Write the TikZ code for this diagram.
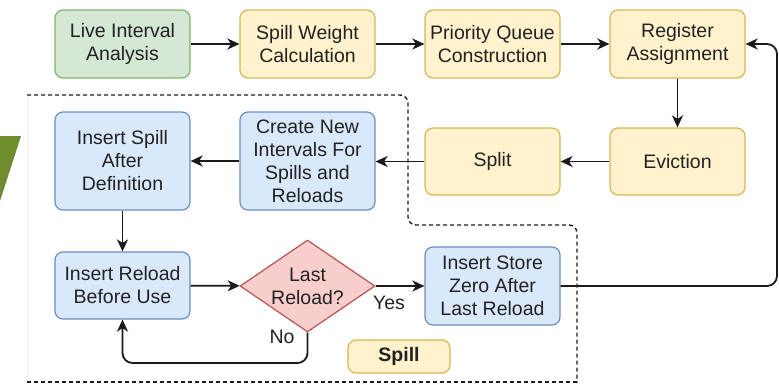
\documentclass[tikz,border=0pt]{standalone}
\usepackage{fontspec}
\setmainfont{Liberation Sans}
\usetikzlibrary{arrows.meta,shapes.geometric,calc}
\definecolor{gfill}{HTML}{D5E8D4}\definecolor{gline}{HTML}{82B366}
\definecolor{yfill}{HTML}{FFF2CC}\definecolor{yline}{HTML}{D6B656}
\definecolor{bfill}{HTML}{DAE8FC}\definecolor{bline}{HTML}{6C8EBF}
\definecolor{rfill}{HTML}{F8CECC}\definecolor{rline}{HTML}{B85450}
\definecolor{txtc}{HTML}{222222}
\definecolor{linec}{HTML}{1A1A1A}
\definecolor{olive}{HTML}{6E8B2E}
\tikzset{
  box/.style={rectangle, rounded corners=8pt, line width=1.2pt, minimum width=135pt,
    align=center, inner sep=0pt, text=txtc, font=\fontsize{19.5}{23}\selectfont},
  gbox/.style={box, draw=gline, fill=gfill},
  ybox/.style={box, draw=yline, fill=yfill},
  bbox/.style={box, draw=bline, fill=bfill},
  dia/.style={diamond, draw=rline, fill=rfill, line width=1.2pt, inner sep=0pt,
    minimum width=135pt, minimum height=92pt},
  txt/.style={align=center, inner sep=0pt, text=txtc, font=\fontsize{19.5}{23}\selectfont},
  arr/.style={draw=linec, line width=1.8pt, -{Stealth[length=12pt,width=11pt,inset=3.5pt]}},
  bound/.style={draw=linec, line width=1.4pt, dash pattern=on 4pt off 3pt},
}
\begin{document}
\begin{tikzpicture}[x=1pt,y=-1pt]
\useasboundingbox (0,0) rectangle (779,384);
% cropped logo fragment
\fill[olive] (0,136) -- (21,136) -- (0,201) -- cycle;
% spill region boundary
\draw[gray!25, line width=0.8pt, dash pattern=on 2pt off 2pt] (27,95) -- (27,382);
\draw[bound, rounded corners=8pt] (27,95) -- (408,95) -- (408,225) -- (577,225) -- (577,383);
\draw[bound] (577,382) -- (27,382);
% nodes
\node[gbox, minimum height=68pt] (lia) at (122.5,44) {Live Interval\\Analysis};
\node[ybox, minimum height=68pt] (swc) at (307.5,44) {Spill Weight\\Calculation};
\node[ybox, minimum height=68pt] (pqc) at (492.5,44) {Priority Queue\\Construction};
\node[ybox, minimum height=68pt] (ra) at (677.5,44) {Register\\Assignment};
\node[ybox, minimum height=67pt] (ev) at (677.5,161.5) {Eviction};
\node[ybox, minimum height=67pt] (sp) at (492.5,161.5) {Split};
\node[bbox, minimum height=98pt] (cni) at (307.5,161) {Create New\\Intervals For\\Spills and\\Reloads};
\node[bbox, minimum height=98pt] (isa) at (122.5,161) {Insert Spill\\After\\Definition};
\node[bbox, minimum height=67pt] (irb) at (122.5,285.5) {Insert Reload\\Before Use};
\node[dia] (lr) at (307.5,286) {};
\node[txt] (lrt) at (307.5,286) {Last\\Reload?};
\node[bbox, minimum height=78pt] (isz) at (492.5,286) {Insert Store\\Zero After\\Last Reload};
\node[ybox, minimum width=102pt, minimum height=33pt, font=\fontsize{19.5}{23}\selectfont\bfseries] (spl) at (399,356.5) {Spill};
% labels
\node[txt] (yes) at (389,303) {Yes};
\node[txt] (no) at (282,337) {No};
% connectors
\draw[arr] (lia) -- (swc);
\draw[arr] (swc) -- (pqc);
\draw[arr] (pqc) -- (ra);
\draw[arr] (ra) -- (ev);
\draw[arr] (ev) -- (sp);
\draw[arr] (sp.west) -- (cni.east |- sp.west);
\draw[arr] (cni) -- (isa);
\draw[arr] (isa) -- (irb);
\draw[arr] (irb) -- (lr);
\draw[arr] (lr) -- (isz);
\draw[arr, rounded corners=10pt] (lr.south) -- (307.5,363) -- (122.5,363) -- (irb.south);
\draw[arr, rounded corners=10pt] (isz.east) -- (777,286) -- (777,44) -- (ra.east);
\end{tikzpicture}
\end{document}
